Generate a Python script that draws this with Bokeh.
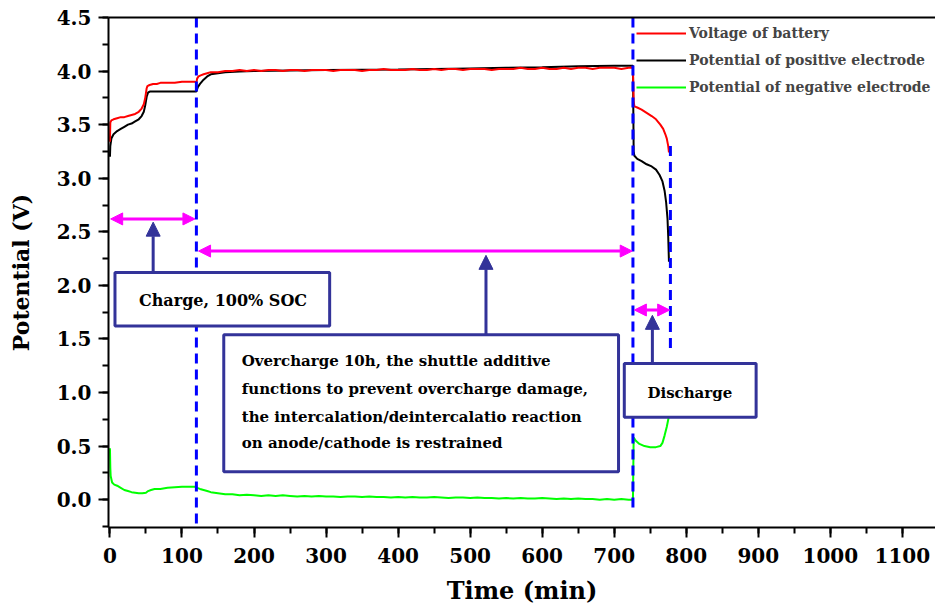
from bokeh.plotting import figure
from bokeh.models import (Range1d, LinearAxis, SingleIntervalTicker, FixedTicker,
                          NumeralTickFormatter, Arrow, NormalHead, Legend, LegendItem)
from bokeh.core.properties import value
from bokeh.embed import file_html
from bokeh.resources import INLINE

# ---------------- data ----------------
# Voltage of battery (V) vs time (min)
t_batt = [0, 0.5, 2, 5, 10, 15, 20, 25, 30, 35, 40, 44, 47, 49, 51, 52, 55, 60, 65, 70,
          80, 90, 100, 110, 118, 120, 121, 123, 126, 130, 135, 140, 150,
          160, 170, 180, 190, 200, 210, 220, 230, 240, 250, 260, 270, 280, 290, 300,
          310, 320, 330, 340, 350, 360, 370, 380, 390, 400, 410, 420, 430, 440, 450,
          460, 470, 480, 490, 500, 510, 520, 530, 540, 550, 560, 570, 580, 590, 600,
          610, 620, 630, 640, 650, 660, 670, 680, 690, 700, 710, 720, 726,
          727, 728, 732, 738, 745, 752, 758, 764, 768, 771, 773, 775, 776]
v_batt = [3.34, 3.52, 3.54, 3.55, 3.56, 3.57, 3.57, 3.58, 3.59, 3.60, 3.62, 3.65, 3.69, 3.75, 3.84, 3.86, 3.87, 3.88, 3.88, 3.89,
          3.89, 3.89, 3.90, 3.90, 3.90, 3.89, 3.93, 3.95, 3.96, 3.97, 3.98, 3.99, 3.99,
          4.00, 4.00, 4.01, 4.00, 4.01, 4.00, 4.01, 4.01, 4.00, 4.01, 4.01, 4.00, 4.01, 4.01, 4.01,
          4.00, 4.01, 4.01, 4.01, 4.00, 4.01, 4.01, 4.02, 4.01, 4.01, 4.01, 4.02, 4.01, 4.01, 4.02,
          4.01, 4.02, 4.02, 4.01, 4.02, 4.02, 4.02, 4.01, 4.02, 4.02, 4.02, 4.03, 4.02, 4.02, 4.03,
          4.02, 4.02, 4.03, 4.02, 4.03, 4.03, 4.02, 4.03, 4.03, 4.03, 4.02, 4.03, 4.03,
          3.72, 3.67, 3.66, 3.64, 3.61, 3.58, 3.55, 3.50, 3.46, 3.41, 3.37, 3.30, 3.24]

# Potential of positive electrode (V)
t_pos = [0, 0.5, 2, 5, 10, 15, 20, 25, 30, 35, 40, 44, 47, 49, 51, 53, 56, 60, 80, 100, 118, 120,
         122, 125, 130, 135, 140, 150, 160, 180, 200, 250, 300, 400, 450, 500, 550, 600, 650, 700, 726,
         727, 728, 732, 738, 745, 752, 758, 763, 767, 770, 772, 774, 775, 776]
v_pos = [3.20, 3.30, 3.37, 3.41, 3.44, 3.46, 3.48, 3.50, 3.51, 3.53, 3.55, 3.58, 3.62, 3.68, 3.76, 3.80, 3.81, 3.81, 3.81, 3.81, 3.81, 3.81,
         3.85, 3.88, 3.92, 3.95, 3.97, 3.98, 3.99, 3.995, 4.00, 4.005, 4.01, 4.015, 4.02, 4.025, 4.03, 4.035, 4.045, 4.05, 4.05,
         3.25, 3.21, 3.18, 3.16, 3.13, 3.11, 3.08, 3.03, 2.97, 2.88, 2.78, 2.62, 2.45, 2.22]

# Potential of negative electrode (V)
t_neg = [0, 0.5, 1, 3, 6, 10, 15, 20, 25, 30, 35, 40, 45, 50, 53, 57, 62, 70, 80, 90, 100, 110, 118,
         121, 125, 130, 135, 140, 150, 160, 170, 180, 190, 200, 210, 220, 230, 240, 250, 260, 270, 280,
         290, 300, 310, 320, 330, 340, 350, 360, 370, 380, 390, 400, 410, 420, 430, 440, 450, 460, 470,
         480, 490, 500, 510, 520, 530, 540, 550, 560, 570, 580, 590, 600, 610, 620, 630, 640, 650, 660,
         670, 680, 690, 700, 710, 720, 726,
         727, 730, 735, 742, 750, 758, 764, 767, 770, 773, 776]
v_neg = [0.48, 0.30, 0.22, 0.16, 0.14, 0.13, 0.11, 0.09, 0.08, 0.07, 0.065, 0.06, 0.06, 0.065, 0.08, 0.09, 0.10, 0.10, 0.11, 0.115, 0.12, 0.12, 0.12,
         0.11, 0.10, 0.09, 0.08, 0.07, 0.06, 0.05, 0.05, 0.04, 0.045, 0.04, 0.035, 0.04, 0.035, 0.04, 0.035, 0.03, 0.035, 0.03,
         0.035, 0.03, 0.03, 0.025, 0.03, 0.03, 0.025, 0.03, 0.025, 0.025, 0.02, 0.025, 0.02, 0.025, 0.02, 0.02, 0.025, 0.02, 0.015,
         0.02, 0.02, 0.015, 0.02, 0.015, 0.015, 0.01, 0.015, 0.01, 0.015, 0.01, 0.01, 0.015, 0.01, 0.005, 0.01, 0.005, 0.01, 0.005,
         0.005, 0.0, 0.005, 0.0, 0.005, 0.0, 0.0,
         0.58, 0.55, 0.52, 0.50, 0.49, 0.49, 0.50, 0.53, 0.60, 0.68, 0.78]

series_names = ["Voltage of battery", "Potential of positive electrode", "Potential of negative electrode"]

# stage boundaries (min): end of charge, end of overcharge, end of discharge
stage_t = [120, 726, 778]

# ---------------- figure ----------------
SERIF = "DejaVu Serif"
NAVY = "#333399"
MAGENTA = "#FF00FF"

p = figure(width=935, height=612, output_backend="svg", toolbar_location=None,
           x_range=Range1d(-2, 1146), y_range=Range1d(-0.26, 4.5),
           min_border_left=108, min_border_right=0, min_border_top=17, min_border_bottom=85,
           background_fill_color="white", border_fill_color="white")
p.outline_line_color = None
p.grid.visible = False

xa = p.xaxis[0]
xa.ticker = SingleIntervalTicker(interval=100, num_minor_ticks=2)
xa.axis_label = "Time (min)"
ya = p.yaxis[0]
ya.ticker = SingleIntervalTicker(interval=0.5, num_minor_ticks=2)
ya.formatter = NumeralTickFormatter(format="0.0")
ya.axis_label = "Potential (V)"

for ax in (xa, ya):
    ax.axis_line_width = 2
    ax.axis_line_color = "black"
    ax.major_tick_line_width = 2
    ax.minor_tick_line_width = 2
    ax.major_tick_line_color = "black"
    ax.minor_tick_line_color = "black"
    ax.major_tick_in = 0
    ax.minor_tick_in = 0
    ax.major_tick_out = 10
    ax.minor_tick_out = 6
    ax.major_label_text_font = SERIF
    ax.major_label_text_font_style = "bold"
    ax.major_label_text_font_size = "20px"
    ax.major_label_text_color = "black"
    ax.axis_label_text_font = SERIF
    ax.axis_label_text_font_style = "bold"
    ax.axis_label_text_color = "black"

xa.major_label_standoff = 10
xa.axis_label_standoff = 10
xa.axis_label_text_font_size = "24px"
ya.major_label_standoff = 7
ya.axis_label_standoff = 20
ya.axis_label_text_font_size = "22px"

# closing line along the top of the frame
top = LinearAxis(ticker=FixedTicker(ticks=[]), major_label_text_font_size="0px",
                 major_tick_out=0, minor_tick_out=0, axis_line_width=2, axis_line_color="black")
p.add_layout(top, "above")

# ---------------- curves ----------------
r_neg = p.line(t_neg, v_neg, line_color="#00FF00", line_width=2)
r_pos = p.line(t_pos, v_pos, line_color="black", line_width=2)
r_batt = p.line(t_batt, v_batt, line_color="#FF0000", line_width=2)

# stage separators
sep_top = [4.5, 4.5, 3.30]
sep_bottom = [-0.26, -0.12, 1.38]
p.segment(x0=stage_t, y0=sep_top, x1=stage_t, y1=sep_bottom,
          line_color="#0000FF", line_width=3, line_dash="10 6")

# ---------------- stage arrows ----------------
def double_arrow(x0, x1, y):
    p.add_layout(Arrow(start=NormalHead(size=12, fill_color=MAGENTA, line_color=MAGENTA),
                       end=NormalHead(size=12, fill_color=MAGENTA, line_color=MAGENTA),
                       x_start=x0, y_start=y, x_end=x1, y_end=y,
                       line_color=MAGENTA, line_width=3))

double_arrow(1, 118, 2.62)
double_arrow(123, 725, 2.32)
double_arrow(728, 777, 1.77)

def pointer(x, y0, y1):
    p.add_layout(Arrow(end=NormalHead(size=14, fill_color=NAVY, line_color=NAVY),
                       x_start=x, y_start=y0, x_end=x, y_end=y1,
                       line_color=NAVY, line_width=3))

pointer(60, 2.12, 2.59)
pointer(522, 1.54, 2.28)
pointer(753, 1.27, 1.72)

# ---------------- note boxes ----------------
p.quad(left=[7, 158, 714], right=[305, 706, 897], bottom=[1.62, 0.26, 0.77], top=[2.12, 1.54, 1.27],
       fill_color="white", line_color=NAVY, line_width=3)

p.text(x=[157], y=[1.86], text=["Charge, 100% SOC"], text_font=value(SERIF),
       text_font_style="bold", text_font_size="16px", text_align="center",
       text_baseline="middle", text_color="black")
p.text(x=[183, 183, 183, 183], y=[1.29, 1.03, 0.775, 0.525],
       text=["Overcharge 10h, the shuttle additive",
             "functions to prevent overcharge damage,",
             "the intercalation/deintercalatio reaction",
             "on anode/cathode is restrained"],
       text_font=value(SERIF), text_font_style="bold", text_font_size="15px",
       text_align="left", text_baseline="middle", text_color="black")
p.text(x=[805], y=[1.0], text=["Discharge"], text_font=value(SERIF),
       text_font_style="bold", text_font_size="15px", text_align="center",
       text_baseline="middle", text_color="black")

# ---------------- legend ----------------
legend = Legend(items=[LegendItem(label=series_names[0], renderers=[r_batt]),
                       LegendItem(label=series_names[1], renderers=[r_pos]),
                       LegendItem(label=series_names[2], renderers=[r_neg])],
                location=(528, 430), orientation="vertical", padding=0, margin=0, spacing=7,
                glyph_width=50, glyph_height=20, label_height=20, label_standoff=3,
                label_text_font=SERIF, label_text_font_style="bold", label_text_font_size="14px",
                border_line_color=None, background_fill_alpha=0)
p.add_layout(legend)

open("out.html", "w").write(file_html(p, INLINE))
